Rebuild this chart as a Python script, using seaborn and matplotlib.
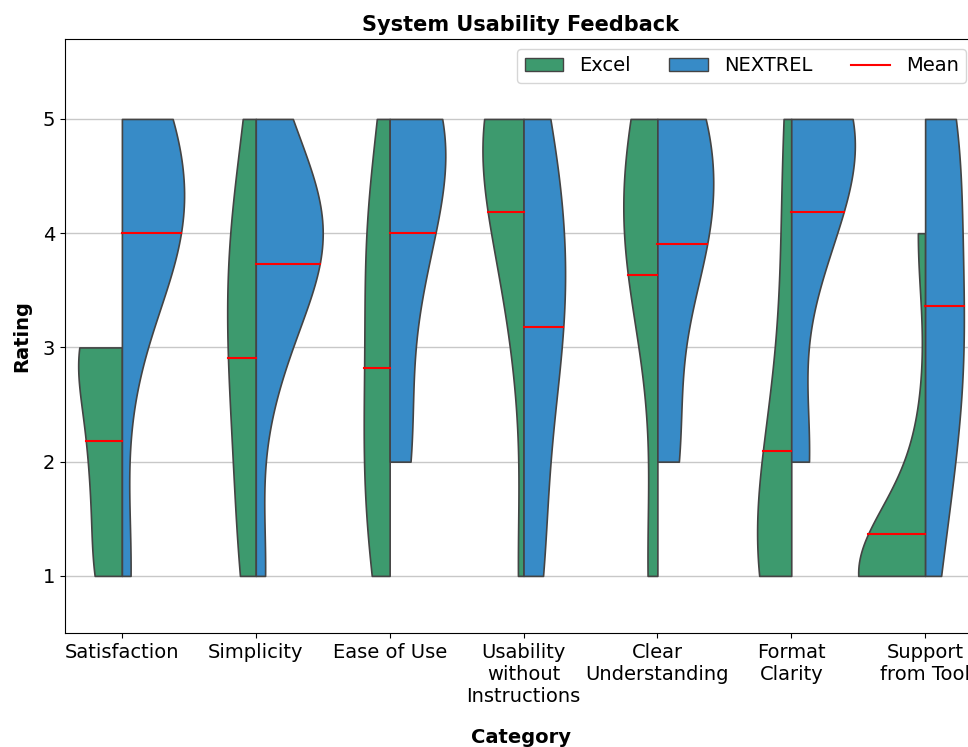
import numpy as np
import pandas as pd
import seaborn as sns
import matplotlib
matplotlib.use("Agg")
import matplotlib.pyplot as plt
from matplotlib.patches import Patch
from matplotlib.lines import Line2D

# ---------------- data ----------------
categories = ["Satisfaction", "Simplicity", "Ease of Use",
              "Usability\nwithout\nInstructions", "Clear\nUnderstanding",
              "Format\nClarity", "Support\nfrom Tool"]
tools = ["Excel", "NEXTREL"]

# individual ratings (11 participants) per category
excel_satisfaction = [1, 1, 1, 2, 2, 2, 3, 3, 3, 3, 3]
excel_simplicity = [1, 1, 2, 2, 3, 3, 3, 4, 4, 4, 5]
excel_ease = [1, 1, 2, 2, 2, 3, 3, 4, 4, 4, 5]
excel_usability = [1, 3, 4, 4, 4, 5, 5, 5, 5, 5, 5]
excel_clear = [1, 1, 3, 4, 4, 4, 4, 4, 5, 5, 5]
excel_format = [1, 1, 1, 1, 1, 2, 2, 2, 3, 4, 5]
excel_support = [1, 1, 1, 1, 1, 1, 1, 1, 1, 2, 4]

nextrel_satisfaction = [1, 3, 4, 4, 4, 4, 4, 5, 5, 5, 5]
nextrel_simplicity = [1, 3, 3, 4, 4, 4, 4, 4, 4, 5, 5]
nextrel_ease = [2, 2, 3, 4, 4, 4, 5, 5, 5, 5, 5]
nextrel_usability = [1, 1, 2, 3, 3, 3, 4, 4, 4, 5, 5]
nextrel_clear = [2, 2, 3, 4, 4, 4, 4, 5, 5, 5, 5]
nextrel_format = [2, 2, 4, 4, 4, 5, 5, 5, 5, 5, 5]
nextrel_support = [1, 2, 2, 3, 3, 3, 4, 4, 5, 5, 5]

excel_all = [excel_satisfaction, excel_simplicity, excel_ease, excel_usability,
             excel_clear, excel_format, excel_support]
nextrel_all = [nextrel_satisfaction, nextrel_simplicity, nextrel_ease,
               nextrel_usability, nextrel_clear, nextrel_format, nextrel_support]

colors = {"Excel": "#3d9a6e", "NEXTREL": "#378bc7"}

rows = []
for cat, ex, nx in zip(categories, excel_all, nextrel_all):
    rows += [(cat, "Excel", v) for v in ex]
    rows += [(cat, "NEXTREL", v) for v in nx]
df = pd.DataFrame(rows, columns=["Category", "Tool", "Rating"])

# ---------------- plot ----------------
fig = plt.figure(figsize=(9.68, 7.47), dpi=100)
ax = fig.add_axes([65 / 968, 114 / 747, 911 / 968, 594 / 747])

sns.violinplot(data=df, x="Category", y="Rating", hue="Tool", order=categories,
               hue_order=tools, split=True, inner=None, cut=0, width=1.0,
               palette=colors, saturation=1, linecolor="#444444", linewidth=1.2,
               density_norm="area", legend=False, ax=ax, zorder=2)

# mean lines across each half violin
means = {("Excel", i): np.mean(v) for i, v in enumerate(excel_all)}
means.update({("NEXTREL", i): np.mean(v) for i, v in enumerate(nextrel_all)})
for coll in list(ax.collections):
    paths = coll.get_paths()
    if not paths:
        continue
    verts = paths[0].vertices
    xs, ys = verts[:, 0], verts[:, 1]
    xmin, xmax = xs.min(), xs.max()
    cidx = int(round((xmin + xmax) / 2))
    if abs(xmax - cidx) < abs(xmin - cidx):
        center, tool = xmax, "Excel"
    else:
        center, tool = xmin, "NEXTREL"
    m = means[(tool, cidx)]
    mask = np.abs(xs - center) > 1e-9
    cy, cw = ys[mask], np.abs(xs[mask] - center)
    o = np.argsort(cy)
    w = np.interp(m, cy[o], cw[o])
    x0, x1 = (center - w, center) if tool == "Excel" else (center, center + w)
    ax.plot([x0, x1], [m, m], color="red", lw=1.5, zorder=3)

ax.set_xlim(-0.425, 6.38)
ax.set_ylim(0.5, 5.7)
ax.set_yticks([1, 2, 3, 4, 5])
ax.yaxis.grid(True, color="#c8c8c8", lw=1.0, zorder=0)
ax.set_axisbelow(True)
ax.tick_params(labelsize=14)
for lab in ax.get_xticklabels():
    lab.set_multialignment("center")
ax.set_title("System Usability Feedback", fontsize=15, fontweight="bold")
ax.set_xlabel("Category", fontsize=14, fontweight="bold", labelpad=16)
ax.set_ylabel("Rating", fontsize=14, fontweight="bold", labelpad=8)

handles = [Patch(facecolor=colors["Excel"], edgecolor="#444444", label="Excel"),
           Patch(facecolor=colors["NEXTREL"], edgecolor="#444444", label="NEXTREL"),
           Line2D([0], [0], color="red", lw=1.5, label="Mean")]
ax.legend(handles=handles, loc="upper right", ncol=3, fontsize=14)

fig.savefig("out.png", dpi=100)
